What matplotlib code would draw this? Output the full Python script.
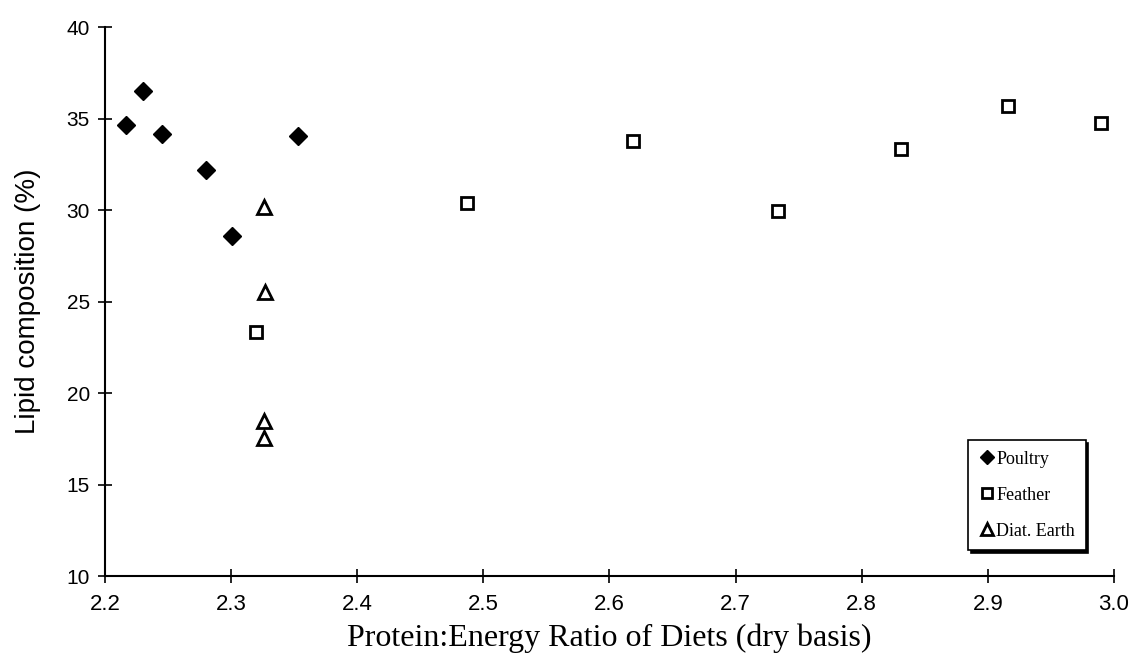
import matplotlib
matplotlib.use("Agg")
import matplotlib.pyplot as plt

poultry_x = [2.217, 2.230, 2.245, 2.280, 2.301, 2.353]
poultry_y = [34.63, 36.50, 34.17, 32.17, 28.58, 34.07]

feather_x = [2.320, 2.487, 2.619, 2.734, 2.831, 2.916, 2.990]
feather_y = [23.35, 30.40, 33.80, 29.98, 33.37, 35.68, 34.76]

diat_x = [2.326, 2.327, 2.326, 2.326]
diat_y = [30.20, 25.55, 18.46, 17.55]

xticks = [2.2, 2.3, 2.4, 2.5, 2.6, 2.7, 2.8, 2.9, 3.0]
yticks = [10, 15, 20, 25, 30, 35, 40]

fig = plt.figure(figsize=(11.32, 6.63), dpi=100)
ax = fig.add_axes([0.0928, 0.131, 0.8912, 0.828])

ax.plot(poultry_x, poultry_y, linestyle='none', marker='D', markersize=9,
        color='black', label='Poultry')
ax.plot(feather_x, feather_y, linestyle='none', marker='s', markersize=9,
        markerfacecolor='white', markeredgecolor='black', markeredgewidth=2,
        label='Feather')
ax.plot(diat_x, diat_y, linestyle='none', marker='^', markersize=10,
        markerfacecolor='white', markeredgecolor='black', markeredgewidth=2,
        label='Diat. Earth')

ax.set_xlim(2.2, 3.0)
ax.set_ylim(10, 40)
ax.set_xticks(xticks)
ax.set_yticks(yticks)
ax.set_xticklabels([f"{v:.1f}" for v in xticks], fontfamily='Liberation Sans', fontsize=16)
ax.set_yticklabels([str(v) for v in yticks], fontfamily='Liberation Sans', fontsize=15)
ax.tick_params(axis='both', direction='inout', length=10, width=1.2, color='black')
ax.tick_params(axis='x', pad=8)
ax.tick_params(axis='y', pad=6)

for s in ['top', 'right']:
    ax.spines[s].set_visible(False)
for s in ['left', 'bottom']:
    ax.spines[s].set_linewidth(1.5)

ax.set_xlabel('Protein:Energy Ratio of Diets (dry basis)', fontfamily='Liberation Serif',
              fontsize=23, labelpad=6)
ax.set_ylabel('Lipid composition (%)', fontfamily='Liberation Sans', fontsize=20, labelpad=18)

leg = ax.legend(loc='lower right', bbox_to_anchor=(0.972, 0.047),
                prop={'family': 'Liberation Serif', 'size': 13},
                frameon=True, fancybox=False,
                shadow={'color': 'black', 'alpha': 1.0},
                handletextpad=0.05, handlelength=0.9, borderpad=0.6,
                borderaxespad=0.0, labelspacing=1.05, markerscale=0.8)
leg.get_frame().set_edgecolor('black')
leg.get_frame().set_linewidth(1.2)
leg.get_frame().set_alpha(1.0)

fig.savefig('out.png', dpi=100)
